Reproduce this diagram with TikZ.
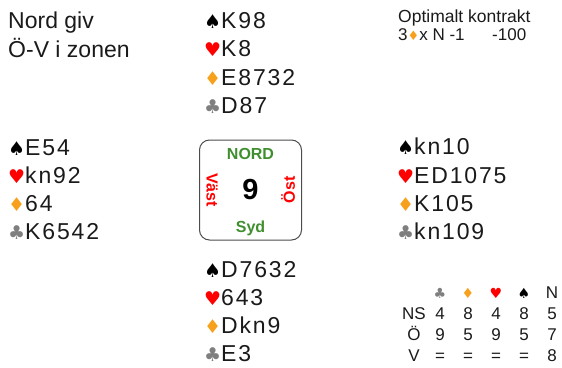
\documentclass[tikz,border=0pt]{standalone}
\usepackage{fontspec}
\setmainfont{Liberation Sans}
\newfontfamily\symf{DejaVu Sans}
\newfontfamily\handf[LetterSpace=8]{Liberation Sans}
\definecolor{hrt}{HTML}{FF0000}
\definecolor{dia}{HTML}{F7A01B}
\definecolor{clb}{HTML}{7F7F7F}
\definecolor{grn}{HTML}{3F8F2F}
\definecolor{txt}{HTML}{1A1A1A}
\newcommand\Sp{{\symf\fontsize{19}{19}\selectfont\color{black}♠}}
\newcommand\He{{\symf\fontsize{19}{19}\selectfont\color{hrt}♥}}
\newcommand\Di{{\symf\fontsize{19}{19}\selectfont\color{dia}♦}}
\newcommand\Cl{{\symf\fontsize{19}{19}\selectfont\color{clb}♣}}
\newcommand\sSp{{\symf\fontsize{14}{14}\selectfont\color{black}♠}}
\newcommand\sHe{{\symf\fontsize{14}{14}\selectfont\color{hrt}♥}}
\newcommand\sDi{{\symf\fontsize{14}{14}\selectfont\color{dia}♦}}
\newcommand\sCl{{\symf\fontsize{14}{14}\selectfont\color{clb}♣}}
\begin{document}
\begin{tikzpicture}[x=1pt,y=-1pt,
  hand/.style={anchor=base west,inner sep=0pt,text=txt,font=\handf\fontsize{23}{23}\selectfont},
  info/.style={anchor=base west,inner sep=0pt,text=txt,font=\fontsize{23}{23}\selectfont},
  small/.style={anchor=base west,inner sep=0pt,text=txt,font=\fontsize{17.5}{17.5}\selectfont},
  cell/.style={anchor=base,inner sep=0pt,text=txt,font=\fontsize{17}{17}\selectfont},
  dir/.style={inner sep=0pt,font=\bfseries\fontsize{16}{16}\selectfont}]
\useasboundingbox (0,0) rectangle (562,367);
% dealer info
\node[info] (d1) at (8,28) {Nord giv};
\node[info] (d2) at (8,57) {Ö-V i zonen};
% optimal contract
\node[small] (o1) at (398,22) {Optimalt kontrakt};
\node[small,font=\fontsize{17}{17}\selectfont] (o2) at (398,40) {3{\symf\fontsize{13}{13}\selectfont\color{dia}♦}x N -1};
\node[small,font=\fontsize{17}{17}\selectfont] (o3) at (492,40) {-100};
% North
\node[hand] (n1) at (204,28) {\Sp K98};
\node[hand] (n2) at (204,56) {\He K8};
\node[hand] (n3) at (204,85) {\Di E8732};
\node[hand] (n4) at (204,113) {\Cl D87};
% West
\node[hand] (w1) at (8,155) {\Sp E54};
\node[hand] (w2) at (8,183) {\He kn92};
\node[hand] (w3) at (8,211) {\Di 64};
\node[hand] (w4) at (8,239) {\Cl K6542};
% East
\node[hand] (e1) at (397,154) {\Sp kn10};
\node[hand] (e2) at (397,183) {\He ED1075};
\node[hand] (e3) at (397,211) {\Di K105};
\node[hand] (e4) at (397,239) {\Cl kn109};
% South
\node[hand] (s1) at (204,277) {\Sp D7632};
\node[hand] (s2) at (204,305) {\He 643};
\node[hand] (s3) at (204,333) {\Di Dkn9};
\node[hand] (s4) at (204,361) {\Cl E3};
% board box
\node[draw=black!70,rounded corners=10pt,line width=1pt,minimum width=102pt,minimum height=100pt,inner sep=0pt] (box) at (250.5,190) {};
\node[dir,text=grn] (bn) at (250.5,154) {NORD};
\node[dir,text=grn] (bs) at (250.5,228) {Syd};
\node[dir,text=hrt,rotate=-90] (bw) at (212,190) {Väst};
\node[dir,text=hrt,rotate=90] (be) at (288,190) {Öst};
\node[inner sep=0pt,text=black,font=\bfseries\fontsize{29}{29}\selectfont] (bnum) at (250.5,190) {9};
% double dummy table
\node[inner sep=0pt] (h1) at (440,293) {\sCl};
\node[inner sep=0pt] (h2) at (468,293) {\sDi};
\node[inner sep=0pt] (h3) at (496,293) {\sHe};
\node[inner sep=0pt] (h4) at (524,293) {\sSp};
\node[cell] (h5) at (552,298) {N};
\node[cell] (rns) at (414,319) {NS};
\node[cell] (r11) at (440,319) {4};
\node[cell] (r12) at (468,319) {8};
\node[cell] (r13) at (496,319) {4};
\node[cell] (r14) at (524,319) {8};
\node[cell] (r15) at (552,319) {5};
\node[cell] (ro) at (414,340) {Ö};
\node[cell] (r21) at (440,340) {9};
\node[cell] (r22) at (468,340) {5};
\node[cell] (r23) at (496,340) {9};
\node[cell] (r24) at (524,340) {5};
\node[cell] (r25) at (552,340) {7};
\node[cell] (rv) at (414,361) {V};
\node[cell] (r31) at (440,361) {=};
\node[cell] (r32) at (468,361) {=};
\node[cell] (r33) at (496,361) {=};
\node[cell] (r34) at (524,361) {=};
\node[cell] (r35) at (552,361) {8};
\end{tikzpicture}
\end{document}
